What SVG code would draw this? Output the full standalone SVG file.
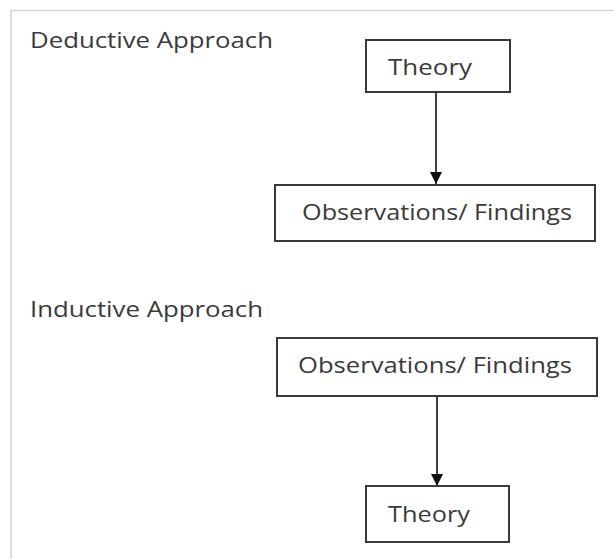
<svg xmlns="http://www.w3.org/2000/svg" width="614" height="559" viewBox="0 0 614 559">
  <style>
    .frame { fill: none; stroke: #d4d4d4; stroke-width: 1.5; }
    .box { fill: #ffffff; stroke: #3a3a3a; stroke-width: 2; }
    .label { font-family: "Open Sans", "Noto Sans", sans-serif; font-size: 21px; fill: #3a3a3a; }
    .edge { stroke: #111111; stroke-width: 1.6; fill: none; marker-end: url(#arrow); }
  </style>
  <defs>
    <marker id="arrow" viewBox="0 0 12 16" refX="12" refY="8" markerWidth="12" markerHeight="16" markerUnits="userSpaceOnUse" orient="auto">
      <path d="M0,2 L12,8 L0,14 Z" fill="#111111"/>
    </marker>
  </defs>

  <rect width="614" height="559" fill="#ffffff"/>
  <!-- outer frame, open to the right and bottom -->
  <path class="frame" d="M11,559 L11,10.5 L614,10.5"/>

  <text class="label" x="30" y="48" textLength="243" lengthAdjust="spacingAndGlyphs">Deductive Approach</text>
  <text class="label" x="30" y="317" textLength="233" lengthAdjust="spacingAndGlyphs">Inductive Approach</text>

  <g id="connectors">
    <line class="edge" x1="436" y1="93" x2="436" y2="184"/>
    <line class="edge" x1="437" y1="397" x2="437" y2="486"/>
  </g>

  <g id="ded-theory">
    <rect class="box" x="366" y="40" width="144" height="52"/>
    <text class="label" x="388" y="75" textLength="84" lengthAdjust="spacingAndGlyphs">Theory</text>
  </g>

  <g id="ded-observations">
    <rect class="box" x="275" y="185" width="320" height="56"/>
    <text class="label" x="302" y="220" textLength="270" lengthAdjust="spacingAndGlyphs">Observations/ Findings</text>
  </g>

  <g id="ind-observations">
    <rect class="box" x="277" y="338" width="320" height="58"/>
    <text class="label" x="298" y="373" textLength="274" lengthAdjust="spacingAndGlyphs">Observations/ Findings</text>
  </g>

  <g id="ind-theory">
    <rect class="box" x="366" y="486" width="143" height="56"/>
    <text class="label" x="388" y="522" textLength="82" lengthAdjust="spacingAndGlyphs">Theory</text>
  </g>
</svg>
